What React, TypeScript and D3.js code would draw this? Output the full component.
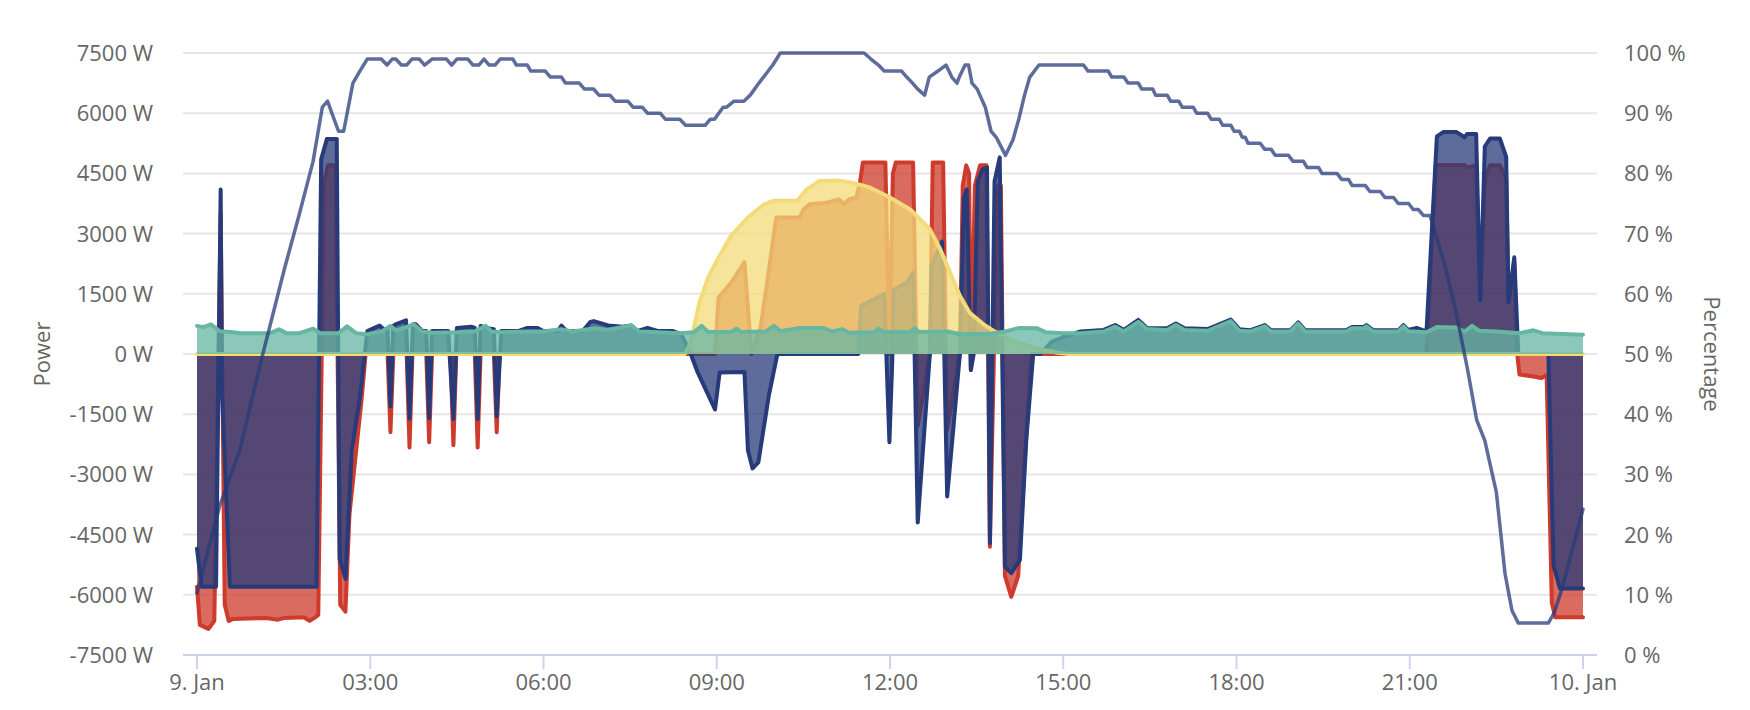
import * as d3 from 'd3';

type Pt = [number, number];

// x-axis ticks (hours after 9. Jan 00:00)
const timeTicks = [0, 3, 6, 9, 12, 15, 18, 21, 24];
const timeLabels = ['9. Jan', '03:00', '06:00', '09:00', '12:00', '15:00', '18:00', '21:00', '10. Jan'];
const powerTicks = [-7500, -6000, -4500, -3000, -1500, 0, 1500, 3000, 4500, 6000, 7500];
const percentTicks = [0, 10, 20, 30, 40, 50, 60, 70, 80, 90, 100];

// grid power [hour, W]
const gridPower: Pt[] = [
  [0, -5800], [0.05, -6750], [0.2, -6850], [0.3, -6650], [0.41, 3500], [0.48, -6250], [0.55, -6650],
  [0.62, -6600], [1.2, -6580], [1.4, -6620], [1.5, -6580], [1.85, -6560], [1.95, -6650], [2.05, -6560],
  [2.1, -6500], [2.2, 4300], [2.27, 4700], [2.4, 4700], [2.48, -6250], [2.57, -6420], [2.64, -4000],
  [2.74, -2630], [2.85, -1130], [2.92, 0],
  [3.3, 0], [3.35, -1950], [3.4, 0], [3.63, 0], [3.68, -2330], [3.73, 0], [3.97, 0], [4.02, -2200],
  [4.07, 0], [4.39, 0], [4.44, -2270], [4.49, 0], [4.81, 0], [4.86, -2330], [4.91, 0], [5.14, 0],
  [5.19, -1950], [5.24, 0],
  [8.97, 0], [9.03, 1400], [9.25, 1780], [9.48, 2290], [9.6, 0], [9.76, 670], [9.88, 1860], [10.03, 3400],
  [10.44, 3410], [10.5, 3600], [10.61, 3730], [10.9, 3770], [11.12, 3850], [11.2, 3730], [11.29, 3850],
  [11.42, 3900], [11.48, 4270], [11.53, 4770], [11.92, 4770], [11.99, 0], [12.05, 4500], [12.1, 4770],
  [12.4, 4770], [12.48, -1800], [12.69, 0], [12.74, 4770], [12.92, 4770], [12.99, -1880], [13.21, 0],
  [13.26, 4200], [13.32, 4700], [13.37, 4500], [13.4, -400], [13.47, 4200], [13.56, 4700], [13.67, 4700],
  [13.73, -4800], [13.8, 0], [13.87, 4200], [13.92, 4200], [13.99, -5530], [14.1, -6050], [14.22, -5530],
  [14.32, -3000], [14.45, 0],
  [21.29, 0], [21.45, 4710], [21.95, 4710], [21.99, 4650], [22.15, 4700], [22.22, 1340], [22.3, 4350],
  [22.39, 4700], [22.56, 4700], [22.67, 4380], [22.71, 1290], [22.81, 2300], [22.86, 0], [22.9, -510],
  [23.14, -560], [23.28, -600], [23.37, -520], [23.46, -6200], [23.52, -6560], [24, -6560],
];

// battery power [hour, W]
const batteryPower: Pt[] = [
  [0, -4850], [0.08, -5800], [0.33, -5800], [0.41, 4100], [0.43, -800], [0.57, -5800], [2.07, -5800],
  [2.15, 4850], [2.25, 5360], [2.42, 5360], [2.47, -5100], [2.57, -5600], [2.68, -2400], [2.82, -1100],
  [2.95, 570], [3.16, 710], [3.25, 600], [3.3, 600], [3.35, -1300], [3.4, 700], [3.44, 740], [3.62, 840],
  [3.68, -1610], [3.74, 740], [3.79, 740], [3.9, 570], [3.97, 570], [4.02, -1600], [4.07, 570], [4.35, 570],
  [4.44, -1620], [4.5, 650], [4.75, 680], [4.81, 650], [4.86, -1620], [4.91, 700], [5.0, 650], [5.14, 620],
  [5.19, -1550], [5.27, 570], [5.56, 570], [5.72, 650], [5.9, 650], [6.0, 570], [6.25, 570], [6.31, 710],
  [6.4, 570], [6.68, 570], [6.81, 800], [6.87, 820], [7.12, 710], [7.37, 680], [7.52, 710], [7.62, 570],
  [7.8, 650], [7.99, 570], [8.24, 570], [8.39, 490], [8.55, 0], [8.67, -460], [8.97, -1380], [9.05, -460],
  [9.48, -450], [9.54, -2400], [9.62, -2850], [9.72, -2700], [9.9, -1050], [10.05, 0], [11.45, 0],
  [11.5, 1200], [11.9, 1490], [11.99, -2200], [12.04, -130], [12.06, 1600], [12.3, 1780], [12.4, 2030],
  [12.48, -4200], [12.69, 0], [12.72, 2200], [12.9, 2800], [12.99, -3550], [13.1, -1800], [13.21, 0],
  [13.28, 3900], [13.33, 4100], [13.4, -400], [13.45, 0], [13.52, 4300], [13.6, 4600], [13.68, 4650],
  [13.73, -4710], [13.81, 4300], [13.9, 4900], [13.99, -5300], [14.1, -5460], [14.25, -5130],
  [14.36, -2130], [14.48, 0], [14.6, 0], [14.8, 300], [15.0, 420], [15.3, 560], [15.7, 600], [15.9, 720],
  [16.05, 600], [16.3, 850], [16.45, 650], [16.8, 640], [16.95, 760], [17.1, 640], [17.5, 620], [17.9, 860],
  [18.05, 620], [18.23, 590], [18.49, 720], [18.6, 590], [18.93, 590], [19.07, 790], [19.19, 590],
  [19.9, 590], [20.0, 670], [20.2, 670], [20.25, 720], [20.37, 590], [20.8, 590], [20.89, 720],
  [20.97, 600], [21.12, 650], [21.29, 560], [21.47, 5420], [21.58, 5530], [21.81, 5530], [21.95, 5400],
  [21.99, 5480], [22.15, 5480], [22.22, 1340], [22.3, 5170], [22.39, 5370], [22.56, 5370], [22.67, 4910],
  [22.71, 1290], [22.81, 2410], [22.88, 0], [23.4, 0], [23.49, -5270], [23.6, -5840], [24, -5840],
];

// pv power [hour, W]
const pvPower: Pt[] = [
  [0, 0], [8.45, 0], [8.55, 300], [8.7, 1280], [8.85, 1900], [9.03, 2400], [9.25, 2950], [9.54, 3400],
  [9.82, 3730], [9.99, 3820], [10.39, 3820], [10.56, 4100], [10.78, 4310], [11.12, 4320], [11.35, 4270],
  [11.65, 4150], [12.0, 3900], [12.35, 3600], [12.69, 3110], [12.87, 2610], [13.04, 2030], [13.21, 1450],
  [13.38, 1030], [13.62, 740], [13.79, 580], [14.1, 350], [14.5, 150], [14.9, 30], [15.1, 0], [24, 0],
];

// house consumption [hour, W]
const housePower: Pt[] = [
  [0, 700], [0.11, 670], [0.24, 740], [0.39, 570], [0.58, 550], [0.76, 515], [1.26, 515], [1.42, 615],
  [1.55, 520], [1.76, 515], [2.01, 630], [2.14, 515], [2.45, 520], [2.6, 690], [2.76, 515], [2.95, 490],
  [3.2, 560], [3.35, 700], [3.45, 580], [3.75, 740], [3.9, 560], [4.07, 530], [4.5, 540], [4.8, 560],
  [5.0, 700], [5.1, 560], [5.25, 540], [5.7, 560], [6.0, 560], [6.3, 620], [6.5, 560], [6.9, 640],
  [7.1, 600], [7.52, 714], [7.65, 560], [8.0, 540], [8.36, 520], [8.6, 540], [8.74, 700], [8.85, 550],
  [9.25, 550], [9.34, 630], [9.42, 550], [9.85, 560], [9.99, 700], [10.1, 570], [10.44, 650], [10.84, 650],
  [11.0, 560], [11.18, 620], [11.28, 530], [11.72, 540], [11.8, 630], [11.88, 550], [12.35, 550],
  [12.43, 640], [12.5, 550], [13.0, 560], [13.2, 500], [13.7, 500], [14.0, 560], [14.24, 650], [14.55, 640],
  [14.7, 540], [15.0, 520], [15.3, 520], [15.7, 560], [15.9, 680], [16.05, 560], [16.3, 800], [16.45, 620],
  [16.8, 600], [16.95, 720], [17.1, 600], [17.5, 580], [17.9, 820], [18.05, 580], [18.23, 560], [18.49, 690],
  [18.6, 560], [18.93, 560], [19.07, 760], [19.19, 560], [19.9, 560], [20.0, 640], [20.2, 640], [20.25, 690],
  [20.37, 560], [20.8, 560], [20.89, 690], [20.97, 570], [21.29, 540], [21.47, 670], [21.8, 660],
  [21.95, 560], [22.08, 700], [22.2, 580], [22.5, 560], [22.91, 520], [23.14, 590], [23.3, 520], [24, 480],
];

// battery state of charge [hour, %]
const batterySoc: Pt[] = [
  [0, 10.3], [0.4, 25], [0.74, 34], [1.14, 50], [1.51, 64], [1.76, 72.8], [2.01, 82], [2.17, 91], [2.26, 92],
  [2.45, 87], [2.54, 87], [2.7, 95], [2.82, 97], [2.95, 99], [3.19, 99], [3.29, 98], [3.38, 99], [3.44, 99],
  [3.54, 98], [3.63, 98], [3.72, 99], [3.85, 99], [3.94, 98], [4.07, 99], [4.32, 99], [4.41, 98], [4.5, 99],
  [4.69, 99], [4.78, 98], [4.88, 98], [4.97, 99], [5.06, 98], [5.16, 98], [5.25, 99], [5.47, 99], [5.53, 98],
  [5.72, 98], [5.78, 97], [6.03, 97], [6.12, 96], [6.31, 96], [6.38, 95], [6.62, 95], [6.71, 94], [6.87, 94],
  [6.96, 93], [7.15, 93], [7.24, 92], [7.46, 92], [7.55, 91], [7.71, 91], [7.8, 90], [8.02, 90], [8.11, 89],
  [8.36, 89], [8.46, 88], [8.8, 88], [8.89, 89], [8.96, 89], [9.11, 91], [9.17, 91], [9.3, 92], [9.47, 92],
  [9.58, 93], [9.73, 95], [9.97, 98], [10.1, 100], [11.55, 100], [11.67, 99], [11.8, 98], [11.9, 97],
  [12.2, 97], [12.29, 96], [12.39, 95], [12.48, 94], [12.6, 93], [12.68, 96], [12.83, 97], [12.97, 98],
  [13.07, 96], [13.16, 95], [13.2, 96], [13.3, 98], [13.36, 98], [13.42, 95], [13.51, 94], [13.65, 91],
  [13.75, 87], [13.84, 86], [14.0, 83], [14.13, 85.6], [14.23, 89], [14.33, 93], [14.42, 96], [14.58, 98],
  [15.35, 98], [15.43, 97], [15.78, 97], [15.84, 96], [16.05, 96], [16.12, 95], [16.3, 95], [16.36, 94],
  [16.55, 94], [16.6, 93], [16.8, 93], [16.86, 92], [17.0, 92], [17.06, 91], [17.25, 91], [17.31, 90],
  [17.5, 90], [17.56, 89], [17.7, 89], [17.76, 88], [17.9, 88], [17.96, 87], [18.05, 87], [18.1, 86],
  [18.15, 86], [18.2, 85], [18.41, 85], [18.49, 84], [18.6, 84], [18.67, 83], [18.9, 83], [18.98, 82],
  [19.16, 82], [19.22, 81], [19.42, 81], [19.48, 80], [19.74, 80], [19.82, 79], [19.94, 79], [20.0, 78],
  [20.23, 78], [20.31, 77], [20.49, 77], [20.57, 76], [20.72, 76], [20.8, 75], [20.98, 75], [21.06, 74],
  [21.15, 74], [21.24, 73], [21.35, 73], [21.6, 65], [21.8, 57], [22.0, 47.5], [22.16, 39], [22.3, 35.6],
  [22.5, 27], [22.65, 13.5], [22.77, 7.4], [22.88, 5.3], [23.4, 5.3], [23.5, 7], [23.63, 10.8], [24, 24.2],
];

const font = '"Open Sans", sans-serif';

export default function App() {
  const width = 1750;
  const height = 710;
  const plot = { left: 183, right: 1597, top: 53, bottom: 655 };

  const x = d3.scaleLinear().domain([-0.2424, 24.2424]).range([plot.left, plot.right]);
  const yPower = d3.scaleLinear().domain([-7500, 7500]).range([plot.bottom, plot.top]);
  const yPct = d3.scaleLinear().domain([0, 100]).range([plot.bottom, plot.top]);

  const area = d3
    .area<Pt>()
    .x((d) => x(d[0]))
    .y0(yPower(0))
    .y1((d) => yPower(d[1]));
  const line = d3
    .line<Pt>()
    .x((d) => x(d[0]))
    .y((d) => yPower(d[1]));
  const socLine = d3
    .line<Pt>()
    .x((d) => x(d[0]))
    .y((d) => yPct(d[1]));

  const series = [
    { data: gridPower, color: '#ce3a2b' },
    { data: batteryPower, color: '#273b7a' },
    { data: pvPower, color: '#f3db7a' },
    { data: housePower, color: '#66b6a2' },
  ];

  return (
    <div style={{ position: 'absolute', left: 0, top: 0 }}>
      <svg width={width} height={height} style={{ display: 'block', background: '#fff' }} fontFamily={font}>
        {/* grid */}
        {powerTicks.map((t) => (
          <line key={t} x1={plot.left} x2={plot.right} y1={yPower(t)} y2={yPower(t)} stroke="#e6e6e6" strokeWidth={2} />
        ))}

        {/* series */}
        {series.map((s, i) => (
          <g key={i}>
            <path d={area(s.data) ?? ''} fill={s.color} fillOpacity={0.75} />
            <path d={line(s.data) ?? ''} fill="none" stroke={s.color} strokeWidth={4} strokeLinejoin="round" strokeLinecap="round" />
          </g>
        ))}
        <path d={socLine(batterySoc) ?? ''} fill="none" stroke="#273b7a" strokeOpacity={0.75} strokeWidth={3.5} strokeLinejoin="round" strokeLinecap="round" />

        {/* x axis */}
        <line x1={plot.left} x2={plot.right} y1={plot.bottom} y2={plot.bottom} stroke="#ccd6eb" strokeWidth={2} />
        {timeTicks.map((t, i) => (
          <g key={t}>
            <line x1={x(t)} x2={x(t)} y1={plot.bottom} y2={plot.bottom + 14} stroke="#ccd6eb" strokeWidth={2} />
            <text x={x(t)} y={690} textAnchor="middle" fontSize={22} fill="#666666">
              {timeLabels[i]}
            </text>
          </g>
        ))}

        {/* left axis */}
        {powerTicks.map((t) => (
          <text key={t} x={153} y={yPower(t) + 8} textAnchor="end" fontSize={22} fill="#666666">
            {`${t} W`}
          </text>
        ))}
        <text transform={`translate(41,${yPower(0)}) rotate(-90)`} textAnchor="middle" dominantBaseline="central" fontSize={22} fill="#666666">
          Power
        </text>

        {/* right axis */}
        {percentTicks.map((t) => (
          <text key={t} x={1624} y={yPct(t) + 8} textAnchor="start" fontSize={22} fill="#666666">
            {`${t} %`}
          </text>
        ))}
        <text transform={`translate(1713,${yPct(50)}) rotate(90)`} textAnchor="middle" dominantBaseline="central" fontSize={22} fill="#666666">
          Percentage
        </text>
      </svg>
    </div>
  );
}
